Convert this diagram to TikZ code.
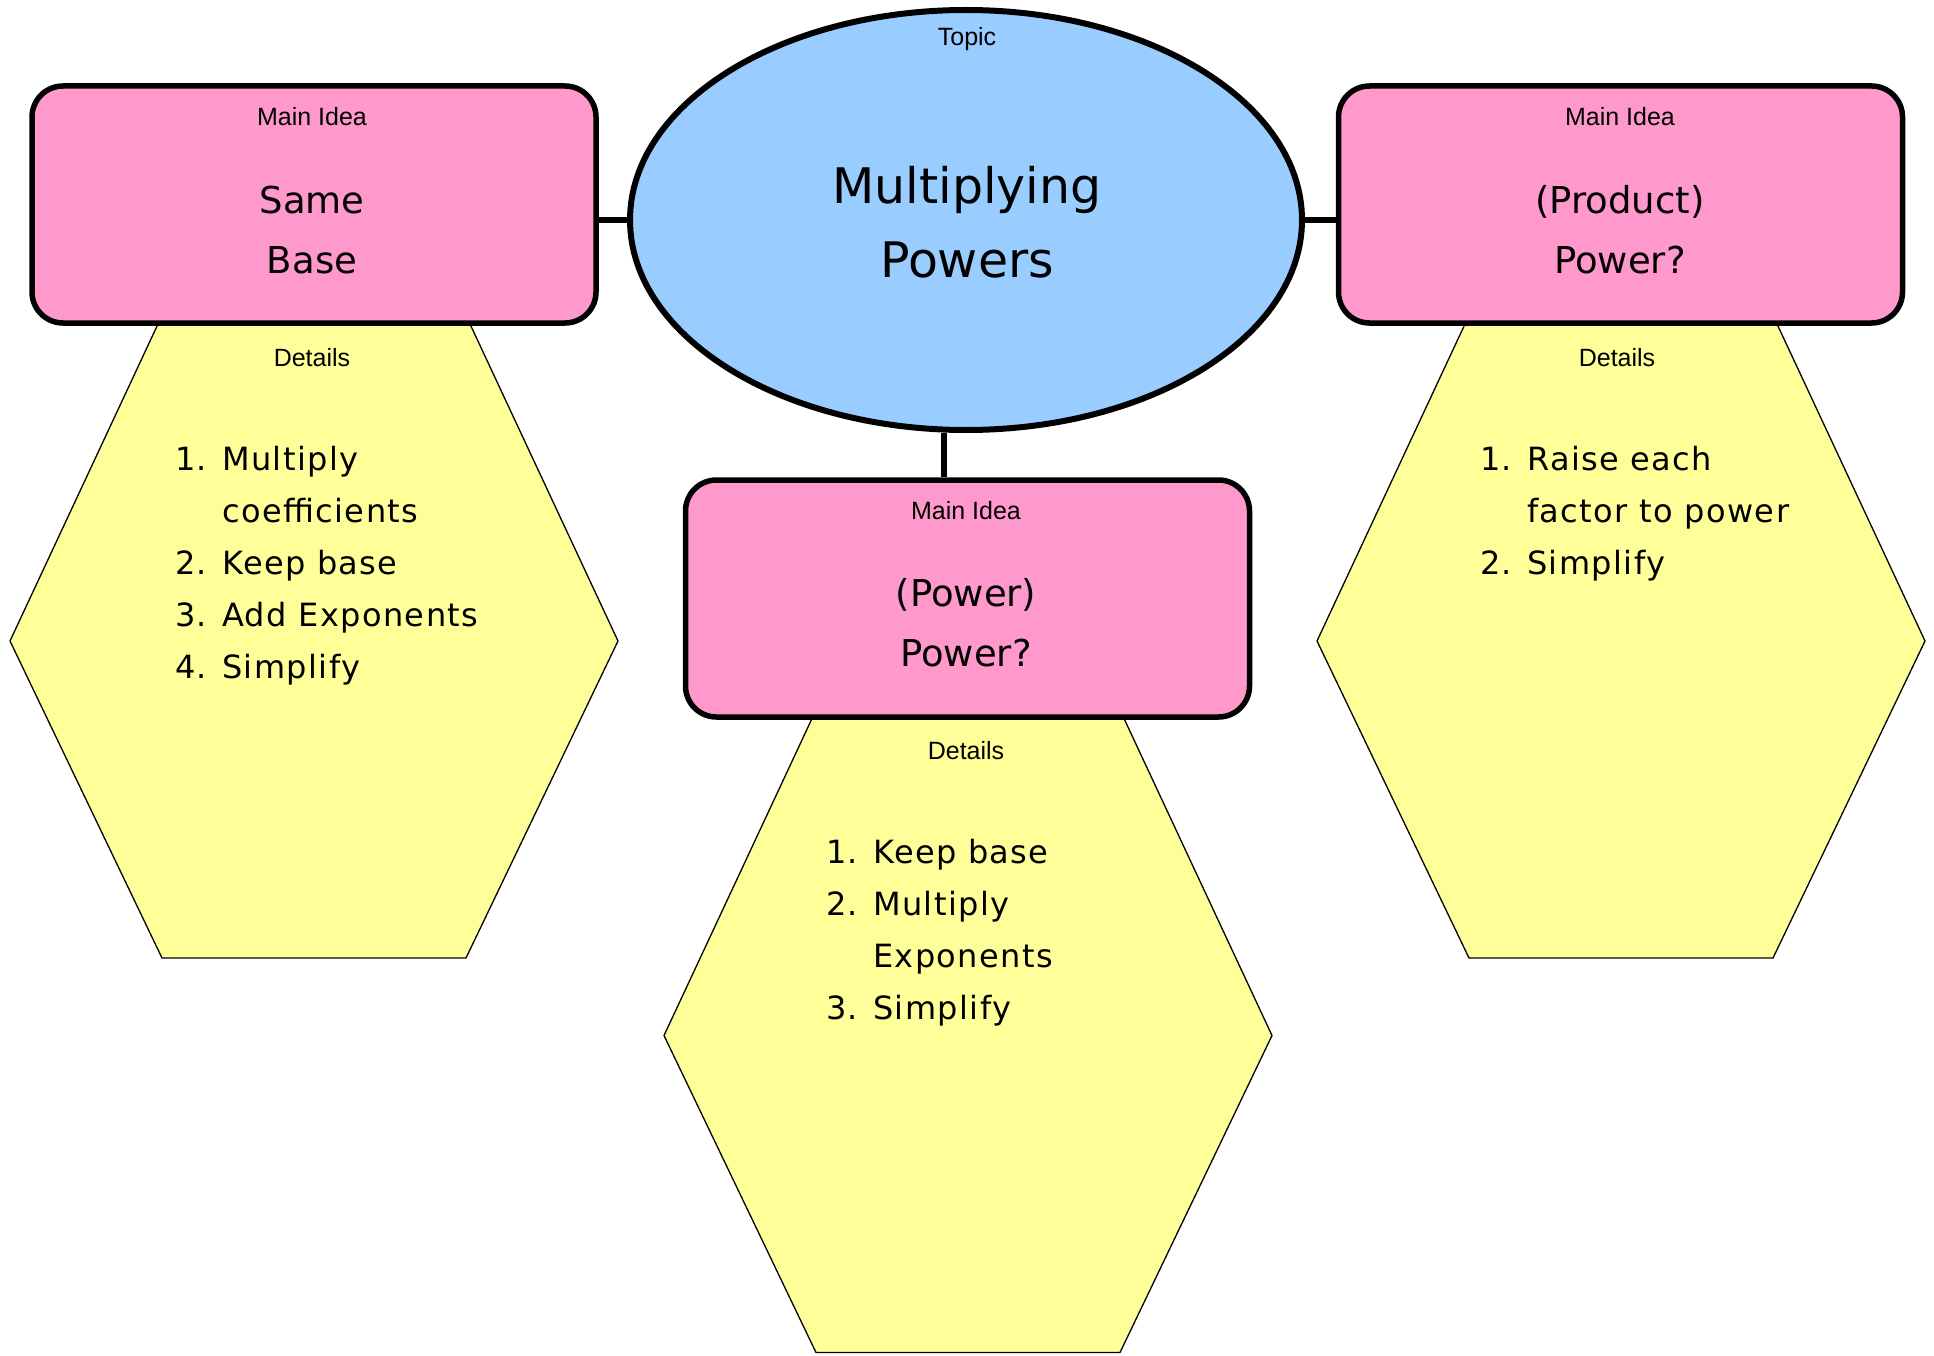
\documentclass[tikz,border=0pt]{standalone}
\usepackage{fontspec}
\setmainfont{DejaVu Sans}
\newfontfamily\labelfont{Liberation Sans}
\newfontfamily\listfont[LetterSpace=4.4]{DejaVu Sans}
\usetikzlibrary{shapes.geometric}
\definecolor{topicblue}{HTML}{99CCFF}
\definecolor{ideapink}{HTML}{FF99CC}
\definecolor{detailyellow}{HTML}{FFFF99}

% hexagonal details panel centred at the given point
\newcommand\detailhex[1]{%
  \draw[hexa] ([shift={(-156,-317)}]#1) -- ([shift={(156,-317)}]#1)
    -- ([shift={(304,0)}]#1) -- ([shift={(152,317)}]#1)
    -- ([shift={(-152,317)}]#1) -- ([shift={(-304,0)}]#1) -- cycle;}

\begin{document}
\begin{tikzpicture}[x=1pt,y=-1pt,
  topicshape/.style={ellipse, draw, line width=6pt, fill=topicblue,
    minimum width=672pt, minimum height=420pt, inner sep=0pt},
  ideabox/.style={draw, line width=5.5pt, fill=ideapink, rounded corners=31pt,
    minimum width=564pt, minimum height=237pt, inner sep=0pt},
  hexa/.style={draw, line width=1.3pt, fill=detailyellow, line join=miter},
  conn/.style={line width=6pt},
  smalllbl/.style={font=\labelfont\fontsize{25}{30}\selectfont, inner sep=0pt},
  titletxt/.style={font=\fontsize{37}{60}\selectfont, align=center, inner sep=0pt},
  topictxt/.style={font=\fontsize{49}{74}\selectfont, align=center, inner sep=0pt},
  listtxt/.style={font=\listfont\fontsize{32}{52}\selectfont, align=left,
    anchor=north west, inner sep=0pt}
]
\useasboundingbox (0,0) rectangle (1934,1356);

% centres of the three details panels
\coordinate (lhc) at (314,641);
\coordinate (mhc) at (968,1035.5);
\coordinate (rhc) at (1621,641);
\detailhex{lhc}
\detailhex{mhc}
\detailhex{rhc}

% topic and main ideas
\node[topicshape] (topic) at (966,220) {};
\node[ideabox] (left) at (314,204.5) {};
\node[ideabox] (right) at (1620.5,204.5) {};
\node[ideabox] (mid) at (967.5,598.5) {};

% connectors
\coordinate (mjoin) at (944,0);
\draw[conn] (left.east |- topic.west) -- (topic.west);
\draw[conn] (topic.east) -- (right.west |- topic.east);
\draw[conn] (topic.south -| mjoin) -- (mid.north -| mjoin);

% topic text
\node[smalllbl] (topiclbl) at (967,39.5) {Topic};
\node[topictxt] (topictext) at (967,222) {Multiplying\\Powers};

% main idea texts
\node[smalllbl] (leftlbl) at (312,117) {Main Idea};
\node[titletxt] (lefttext) at (312,230) {Same\\Base};
\node[smalllbl] (rightlbl) at (1620,117) {Main Idea};
\node[titletxt] (righttext) at (1620,230) {(Product)\\Power?};
\node[smalllbl] (midlbl) at (966,511) {Main Idea};
\node[titletxt] (midtext) at (966,623) {(Power)\\Power?};

% details texts
\node[smalllbl] (leftdet) at (312,358) {Details};
\node[smalllbl] (rightdet) at (1617,358) {Details};
\node[smalllbl] (middet) at (966,751) {Details};

\node[listtxt] (leftlist) at (175,446) {%
  \makebox[47pt][l]{1.}Multiply\\
  \hspace*{47pt}coefficients\\
  \makebox[47pt][l]{2.}Keep base\\
  \makebox[47pt][l]{3.}Add Exponents\\
  \makebox[47pt][l]{4.}Simplify};
\node[listtxt] (midlist) at (826,839) {%
  \makebox[47pt][l]{1.}Keep base\\
  \makebox[47pt][l]{2.}Multiply\\
  \hspace*{47pt}Exponents\\
  \makebox[47pt][l]{3.}Simplify};
\node[listtxt] (rightlist) at (1480,446) {%
  \makebox[47pt][l]{1.}Raise each\\
  \hspace*{47pt}factor to power\\
  \makebox[47pt][l]{2.}Simplify};
\end{tikzpicture}
\end{document}
